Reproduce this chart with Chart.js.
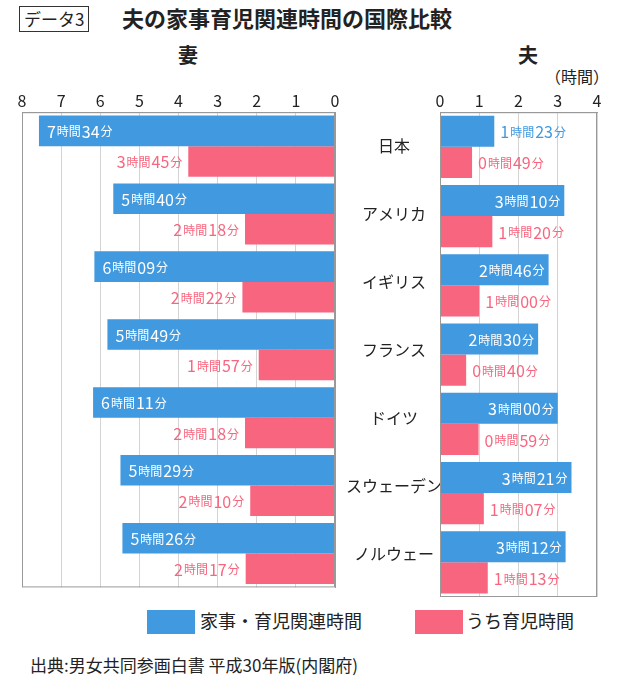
<!DOCTYPE html>
<html><head><meta charset="utf-8">
<script src="https://cdn.jsdelivr.net/npm/chart.js@4/dist/chart.umd.min.js"></script>
<style>
body{margin:0;width:629px;height:680px;background:#fff;font-family:"Noto Sans CJK JP",sans-serif;color:#222;position:relative;overflow:hidden}
.abs{position:absolute;white-space:nowrap}
canvas{position:absolute}
</style></head><body>
<div class="abs" style="left:19px;top:6px;border:1.5px solid #333;padding:0 4px;font-size:17px;line-height:24px">データ3</div>
<div class="abs" style="left:122px;top:2px;font-size:22px;font-weight:bold;line-height:30px">夫の家事育児関連時間の国際比較</div>
<div class="abs" style="left:178px;top:40px;font-size:20px;font-weight:bold">妻</div>
<div class="abs" style="left:518px;top:40px;font-size:20px;font-weight:bold">夫</div>
<div class="abs" style="left:545px;top:64px;font-size:16px">（時間）</div>
<canvas id="wife" width="440" height="515" style="left:0;top:85px"></canvas>
<canvas id="husband" width="199" height="515" style="left:430px;top:85px"></canvas>
<div class="abs" style="left:147px;top:610px;width:48px;height:24px;background:#4199E0"></div>
<div class="abs" style="left:200px;top:607px;font-size:18px">家事・育児関連時間</div>
<div class="abs" style="left:415px;top:610px;width:48px;height:24px;background:#F7667E"></div>
<div class="abs" style="left:466px;top:607px;font-size:18px">うち育児時間</div>
<div class="abs" style="left:30px;top:652px;font-size:17px">出典:男女共同参画白書 平成30年版(内閣府)</div>
<script>
const countries = ['日本','アメリカ','イギリス','フランス','ドイツ','スウェーデン','ノルウェー'];
// minutes per day
const wifeTotal = [454,340,369,349,371,329,326];
const wifeChild = [225,138,142,117,138,130,137];
const husbandTotal = [83,190,166,150,180,201,192];
const husbandChild = [49,80,60,40,59,67,73];
const wifeTicks = [0,1,2,3,4,5,6,7,8];
const husbandTicks = [0,1,2,3,4];

const BLUE = '#4199E0', PINK = '#F7667E';
const toH = a => a.map(m => m / 60);
const fmt = m => Math.floor(m / 60) + '時間' + String(m % 60).padStart(2, '0') + '分';

function drawMixed(ctx, text, x, y, align, color) {
  const parts = text.match(/\d+|\D+/g);
  const fontOf = p => /\d/.test(p) ? '16px "Noto Sans CJK JP"' : '12px "Noto Sans CJK JP"';
  let w = 0;
  parts.forEach(p => { ctx.font = fontOf(p); w += ctx.measureText(p).width + 1; });
  let cx = align === 'right' ? x - w : x;
  ctx.fillStyle = color; ctx.textBaseline = 'middle'; ctx.textAlign = 'left';
  parts.forEach(p => { ctx.font = fontOf(p); ctx.fillText(p, cx, y + 1); cx += ctx.measureText(p).width + 1; });
}

function labelPlugin(side) {
  return {
    id: 'lbl' + side,
    afterDatasetsDraw(chart) {
      const ctx = chart.ctx;
      ctx.save();
      chart.data.datasets.forEach((ds, di) => {
        chart.getDatasetMeta(di).data.forEach((bar, i) => {
          const m = ds.minutes[i];
          const t = fmt(m);
          if (side === 'wife') {
            if (di === 0) drawMixed(ctx, t, bar.x + 8, bar.y, 'left', '#fff');
            else drawMixed(ctx, t, bar.x - 5, bar.y, 'right', PINK);
          } else {
            if (di === 0) {
              if (m > 120) drawMixed(ctx, t, bar.x - 3, bar.y, 'right', '#fff');
              else drawMixed(ctx, t, bar.x + 6, bar.y, 'left', BLUE);
            } else drawMixed(ctx, t, bar.x + 6, bar.y, 'left', PINK);
          }
        });
      });
      ctx.restore();
    }
  };
}

function makeChart(id, side, total, child, ticks, max, reverse, padding) {
  const yAxis = {
    position: reverse ? 'right' : 'left',
    display: reverse,
    ticks: { crossAlign: 'center', color: '#222', font: { size: 16, family: 'Noto Sans CJK JP' } },
    grid: { display: false },
    border: { display: true, color: '#999' }
  };
  if (reverse) yAxis.afterFit = ax => { ax.width = 105; };
  new Chart(document.getElementById(id), {
    type: 'bar',
    data: {
      labels: countries,
      datasets: [
        { data: toH(total), minutes: total, backgroundColor: BLUE },
        { data: toH(child), minutes: child, backgroundColor: PINK }
      ]
    },
    options: {
      indexAxis: 'y', responsive: false, animation: false,
      categoryPercentage: 0.9, barPercentage: 1,
      layout: { padding },
      plugins: { legend: { display: false }, tooltip: { enabled: false } },
      scales: {
        x: {
          position: 'top', min: 0, max, reverse,
          afterBuildTicks: ax => { ax.ticks = ticks.map(v => ({ value: v })); },
          ticks: { color: '#222', font: { size: 16, family: 'Noto Sans CJK JP' }, padding: 2 },
          grid: { color: '#d4d4d4', drawTicks: false },
          border: { display: true, color: '#999' }
        },
        y: yAxis
      }
    },
    plugins: [labelPlugin(side), {
      id: 'frame', afterDraw(c) {
        const a = c.chartArea, g = c.ctx;
        g.save(); g.strokeStyle = '#999'; g.lineWidth = 1;
        g.strokeRect(a.left + 0.5, a.top + 0.5, a.right - a.left - 1, a.bottom - a.top - 1);
        g.restore();
      }
    }]
  });
}

makeChart('wife', 'wife', wifeTotal, wifeChild, wifeTicks, 8, true, { left: 22, right: 0, top: 4, bottom: 3 });
makeChart('husband', 'husband', husbandTotal, husbandChild, husbandTicks, 4, false, { left: 10, right: 32, top: 4, bottom: 3 });
</script>
</body></html>
